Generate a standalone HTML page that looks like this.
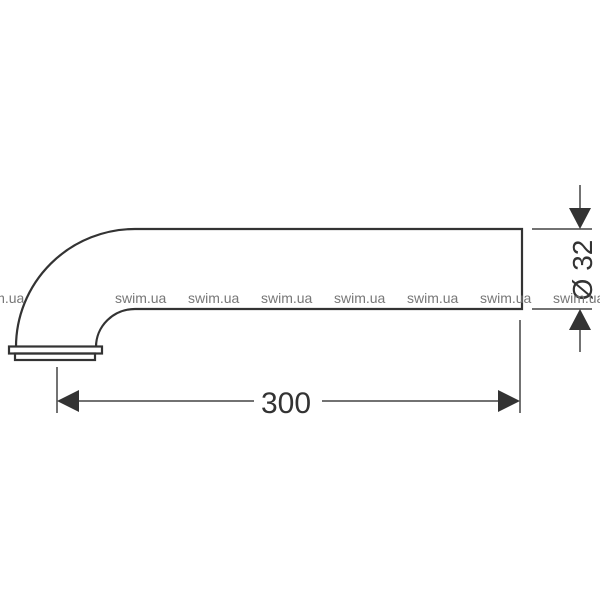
<!DOCTYPE html>
<html><head><meta charset="utf-8"><style>
html,body{margin:0;padding:0;background:#fff;width:600px;height:600px;overflow:hidden}
svg{display:block}
</style></head><body>
<svg width="600" height="600" viewBox="0 0 600 600" xmlns="http://www.w3.org/2000/svg">
<g fill="none" stroke="#333" stroke-width="2.2">
<path d="M16 347 A119 118 0 0 1 135 229 L522 229 L522 309 L135 309 A39 38 0 0 0 96 347"/>
<rect x="9" y="346.5" width="93" height="7"/>
<rect x="15" y="353.5" width="80" height="6.5"/>
</g>
<g stroke="#444" stroke-width="1.5" fill="none">
<line x1="57" y1="367" x2="57" y2="413"/>
<line x1="520" y1="320" x2="520" y2="413"/>
<line x1="78" y1="401" x2="254" y2="401"/>
<line x1="322" y1="401" x2="499" y2="401"/>
<line x1="532" y1="229" x2="592" y2="229"/>
<line x1="532" y1="309" x2="592" y2="309"/>
<line x1="580" y1="185" x2="580" y2="210"/>
<line x1="580" y1="328" x2="580" y2="352"/>
</g>
<g fill="#333">
<polygon points="57,401 79,390 79,412"/>
<polygon points="520,401 498,390 498,412"/>
<polygon points="580,229 569,208 591,208"/>
<polygon points="580,309 569,330 591,330"/>
</g>
<text x="286" y="413" font-family="Liberation Sans, sans-serif" font-size="30" fill="#333" text-anchor="middle">300</text>
<text transform="translate(592,270) rotate(-90)" font-family="Liberation Sans, sans-serif" font-size="28" fill="#333" text-anchor="middle">Ø 32</text>
<g font-family="Liberation Sans, sans-serif" font-size="14" fill="#777">
<text x="-27" y="303">swim.ua</text>
<text x="115" y="303">swim.ua</text>
<text x="188" y="303">swim.ua</text>
<text x="261" y="303">swim.ua</text>
<text x="334" y="303">swim.ua</text>
<text x="407" y="303">swim.ua</text>
<text x="480" y="303">swim.ua</text>
<text x="553" y="303">swim.ua</text>
</g>
</svg>
</body></html>
